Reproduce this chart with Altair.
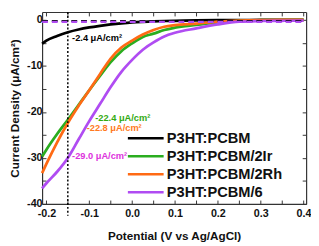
import altair as alt
import pandas as pd

FONT = "Liberation Sans"

potential = [-0.21, -0.2, -0.175, -0.15, -0.125, -0.1, -0.075, -0.05, -0.025, 0.0,
             0.025, 0.05, 0.075, 0.1, 0.15, 0.2, 0.25, 0.3, 0.35, 0.4]
j_pcbm = [-5.2, -4.5, -3.5, -2.7, -2.1, -1.65, -1.3, -1.0, -0.75, -0.55,
          -0.42, -0.32, -0.25, -0.2, -0.12, -0.07, -0.04, -0.02, -0.01, 0.0]
j_2ir = [-29.7, -28.2, -24.8, -21.7, -18.5, -15.3, -12.2, -9.2, -6.8, -5.1,
         -3.7, -3.0, -2.2, -1.7, -1.1, -0.55, -0.2, -0.08, -0.03, 0.0]
j_2rh = [-33.3, -31.3, -26.6, -22.4, -18.7, -15.3, -11.8, -8.4, -6.0, -4.5,
         -3.2, -2.2, -1.5, -1.15, -0.8, -0.4, -0.15, -0.05, -0.02, 0.0]
j_6 = [-36.6, -35.5, -33.0, -30.0, -26.0, -22.0, -18.3, -14.6, -11.3, -8.7,
       -6.5, -4.9, -3.6, -2.8, -1.85, -1.0, -0.4, -0.25, -0.2, -0.15]

series_names = ["P3HT:PCBM", "P3HT:PCBM/2Ir", "P3HT:PCBM/2Rh", "P3HT:PCBM/6"]
series_colors = ["#000000", "#2aad1f", "#ff6a14", "#b04cf2"]

dark_x = [-0.21, 0.4]
dark_black = [-0.25, -0.25]
dark_purple = [-0.45, -0.45]

marker_x = [-0.15]

ann_text = ["-2.4 μA/cm²", "-22.4 μA/cm²", "-22.8 μA/cm²", "-29.0 μA/cm²"]
ann_x = [-0.140, -0.086, -0.106, -0.140]
ann_y = [-3.85, -21.3, -23.6, -29.5]
ann_color = ["#000000", "#33aa11", "#ff7a22", "#dd33dd"]

x_ticks = [-0.2, -0.15, -0.1, -0.05, 0.0, 0.05, 0.1, 0.15, 0.2, 0.25, 0.3, 0.35, 0.4]
y_ticks = [-40, -35, -30, -25, -20, -15, -10, -5, 0]

rows = []
for name, vals in zip(series_names, [j_pcbm, j_2ir, j_2rh, j_6]):
    for x, y in zip(potential, vals):
        rows.append({"series": name, "V": x, "J": y})
curves = pd.DataFrame(rows)

drows = []
for name, vals in [("P3HT:PCBM", dark_black), ("P3HT:PCBM/6", dark_purple)]:
    for x, y in zip(dark_x, vals):
        drows.append({"series": name, "V": x, "J": y})
dark = pd.DataFrame(drows)

ann = pd.DataFrame({"t": ann_text, "V": ann_x, "J": ann_y, "c": ann_color})
marker = pd.DataFrame({"V": marker_x})

xscale = alt.Scale(domain=[-0.21, 0.406], nice=False, zero=False)
yscale = alt.Scale(domain=[-40, 1.7], nice=False, zero=False)
cscale = alt.Scale(domain=series_names, range=series_colors)

x_lab = "abs(round(datum.value*100)) % 10 == 0 ? replace(format(datum.value, '.1f'), '\u2212', '-') : ''"
y_lab = "abs(round(datum.value)) % 10 == 0 ? replace(format(datum.value, 'd'), '\u2212', '-') : ''"

common_axis = dict(
    domainColor="#333333", domainWidth=1.2, tickColor="#333333", tickWidth=1,
    tickSize={"expr": "-4"}, grid=False, labelFont=FONT, labelFontSize=11,
    labelFontWeight="bold", labelColor="#111111", titleFont=FONT,
    titleFontSize=12, titleFontWeight="bold", titleColor="#111111",
)

x_bottom = alt.Axis(values=x_ticks, labelExpr=x_lab, title="Potential (V vs Ag/AgCl)",
                    labelPadding=8, titlePadding=12, orient="bottom", **common_axis)
y_left = alt.Axis(values=y_ticks, labelExpr=y_lab, title="Current Density (μA/cm²)",
                  labelPadding=4, titlePadding=5, orient="left", **common_axis)
x_top = alt.Axis(values=x_ticks, labels=False, title=None, orient="top", **common_axis)
y_right = alt.Axis(values=y_ticks, labels=False, title=None, orient="right", **common_axis)

lines = alt.Chart(curves).mark_line(strokeWidth=2.8, interpolate="monotone").encode(
    x=alt.X("V:Q", scale=xscale, axis=x_bottom),
    y=alt.Y("J:Q", scale=yscale, axis=y_left),
    color=alt.Color("series:N", scale=cscale, sort=series_names,
                    legend=alt.Legend(title=None, orient="none", legendX=112, legendY=122,
                                      padding=0, symbolType="M-6,0H1", symbolSize=110,
                                      symbolStrokeWidth=2.5, labelFont=FONT,
                                      labelFontSize=15, labelFontWeight="bold",
                                      labelColor="#111111", rowPadding=2.5,
                                      labelOffset=1, labelLimit=200)),
)

dark_lines = alt.Chart(dark).mark_line(strokeWidth=2.2, strokeDash=[6, 4]).encode(
    x=alt.X("V:Q", scale=xscale, axis=x_top),
    y=alt.Y("J:Q", scale=yscale, axis=y_right),
    color=alt.Color("series:N", scale=cscale, legend=None),
)

vline = alt.Chart(marker).mark_rule(color="#000000", strokeWidth=1.5, strokeDash=[2, 2],
                                    clip=False).encode(
    x=alt.X("V:Q", scale=xscale, axis=None),
    y=alt.value(0),
    y2=alt.value(209),
)

texts = alt.Chart(ann).mark_text(align="left", baseline="middle", font=FONT,
                                 fontSize=9.5, fontWeight="bold").encode(
    x=alt.X("V:Q", scale=xscale, axis=None),
    y=alt.Y("J:Q", scale=yscale, axis=None),
    text="t:N",
    color=alt.Color("c:N", scale=None),
)

chart = alt.layer(lines, dark_lines, vline, texts).resolve_axis(
    x="independent", y="independent"
).properties(
    width=271, height=197,
    autosize=alt.AutoSizeParams(type="none"),
    padding={"left": 35, "top": 1, "right": 5, "bottom": 40},
).configure_view(stroke=None)

chart.save("out.html", embed_options={"renderer": "svg", "actions": False})
